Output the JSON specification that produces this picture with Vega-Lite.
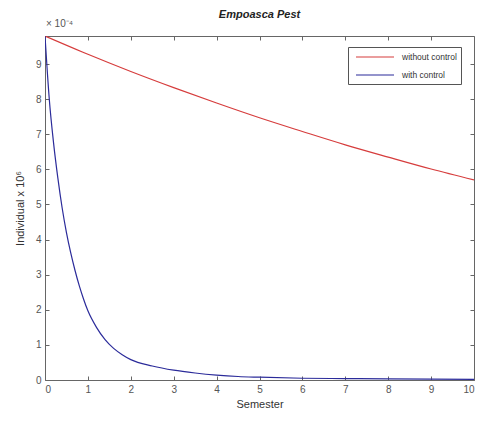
{
  "$schema": "https://vega.github.io/schema/vega-lite/v6.json",
  "width": 429,
  "height": 344,
  "autosize": {"type": "none"},
  "padding": {"left": 45, "top": 36, "right": 10, "bottom": 41},
  "title": {"text": "Empoasca Pest", "fontSize": 11, "fontWeight": "bold", "fontStyle": "italic", "font": "Liberation Sans", "color": "#222", "offset": -1, "anchor": "middle"},
  "config": {
    "view": {"stroke": "#666", "strokeWidth": 1},
    "axis": {"grid": false, "domain": false, "labelFont": "Liberation Sans", "titleFont": "Liberation Sans", "labelColor": "#555", "labelFontSize": 10, "tickColor": "#666", "tickSize": -4, "titleFontWeight": "normal", "titleFontSize": 11, "titleColor": "#333"}
  },
  "datasets": {
    "curves": [
      {"t": 0, "v": 9.8, "series": "without control"},
      {"t": 1, "v": 9.28, "series": "without control"},
      {"t": 2, "v": 8.79, "series": "without control"},
      {"t": 3, "v": 8.33, "series": "without control"},
      {"t": 4, "v": 7.89, "series": "without control"},
      {"t": 5, "v": 7.47, "series": "without control"},
      {"t": 6, "v": 7.08, "series": "without control"},
      {"t": 7, "v": 6.7, "series": "without control"},
      {"t": 8, "v": 6.35, "series": "without control"},
      {"t": 9, "v": 6.01, "series": "without control"},
      {"t": 10, "v": 5.7, "series": "without control"},
      {"t": 0, "v": 9.8, "series": "with control"},
      {"t": 0.1, "v": 8.0, "series": "with control"},
      {"t": 0.2, "v": 6.75, "series": "with control"},
      {"t": 0.3, "v": 5.75, "series": "with control"},
      {"t": 0.4, "v": 4.9, "series": "with control"},
      {"t": 0.5, "v": 4.2, "series": "with control"},
      {"t": 0.6, "v": 3.62, "series": "with control"},
      {"t": 0.7, "v": 3.12, "series": "with control"},
      {"t": 0.8, "v": 2.68, "series": "with control"},
      {"t": 0.9, "v": 2.3, "series": "with control"},
      {"t": 1.0, "v": 1.97, "series": "with control"},
      {"t": 1.2, "v": 1.5, "series": "with control"},
      {"t": 1.4, "v": 1.15, "series": "with control"},
      {"t": 1.6, "v": 0.9, "series": "with control"},
      {"t": 1.8, "v": 0.72, "series": "with control"},
      {"t": 2.0, "v": 0.58, "series": "with control"},
      {"t": 2.5, "v": 0.4, "series": "with control"},
      {"t": 3.0, "v": 0.28, "series": "with control"},
      {"t": 3.5, "v": 0.2, "series": "with control"},
      {"t": 4.0, "v": 0.14, "series": "with control"},
      {"t": 4.5, "v": 0.1, "series": "with control"},
      {"t": 5.0, "v": 0.08, "series": "with control"},
      {"t": 6.0, "v": 0.05, "series": "with control"},
      {"t": 7.0, "v": 0.04, "series": "with control"},
      {"t": 8.0, "v": 0.03, "series": "with control"},
      {"t": 10.0, "v": 0.02, "series": "with control"}
    ],
    "note": [{"t": 0, "v": 9.8, "label": "× 10⁻⁴"}]
  },
  "layer": [
    {
      "data": {"name": "curves"},
      "mark": {"type": "line", "strokeWidth": 1.2, "interpolate": "monotone", "clip": true},
      "encoding": {
        "x": {"field": "t", "type": "quantitative", "scale": {"domain": [0, 10], "nice": false}, "axis": {"values": [0,1,2,3,4,5,6,7,8,9,10], "title": "Semester", "labelPadding": 8, "titlePadding": 4}},
        "y": {"field": "v", "type": "quantitative", "scale": {"domain": [0, 9.8], "nice": false}, "axis": {"values": [0,1,2,3,4,5,6,7,8,9], "title": "Individual x 10⁶", "labelPadding": 8, "titlePadding": 10}},
        "color": {"field": "series", "type": "nominal", "sort": ["without control", "with control"], "scale": {"domain": ["without control", "with control"], "range": ["#d63c3c", "#2b2b9a"]},
          "legend": {"orient": "none", "legendX": 303, "legendY": 11, "title": null, "symbolType": "M-0.4,0H7.2", "symbolSize": 100, "symbolStrokeWidth": 1.2, "labelFontSize": 8.5, "labelFont": "Liberation Sans", "labelColor": "#333", "strokeColor": "#555", "fillColor": "white", "padding": 4, "rowPadding": 7, "labelOffset": 38}}
      }
    },
    {
      "data": {"name": "note"},
      "mark": {"type": "text", "align": "left", "baseline": "bottom", "dy": -7, "dx": 1, "fontSize": 10, "font": "Liberation Sans", "color": "#555"},
      "encoding": {
        "x": {"field": "t", "type": "quantitative", "axis": {"orient": "top", "values": [0,1,2,3,4,5,6,7,8,9,10], "labels": false, "title": null}},
        "y": {"field": "v", "type": "quantitative", "axis": {"orient": "right", "values": [0,1,2,3,4,5,6,7,8,9], "labels": false, "title": null}},
        "text": {"field": "label"}
      }
    }
  ],
  "resolve": {"axis": {"x": "independent", "y": "independent"}}
}
